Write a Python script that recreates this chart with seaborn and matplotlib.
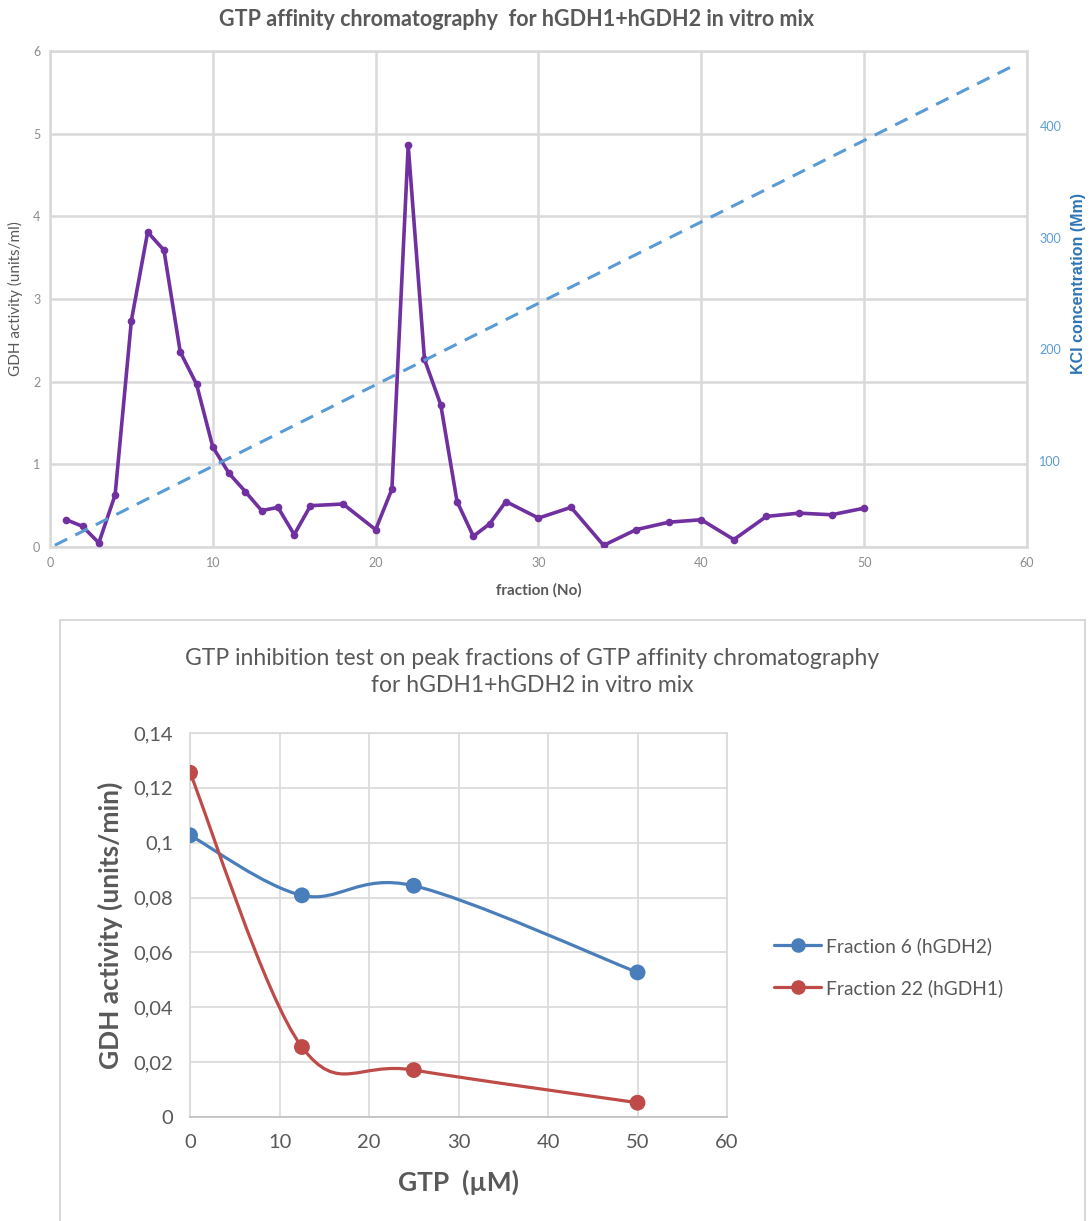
import matplotlib
matplotlib.use("Agg")
import matplotlib.pyplot as plt
from matplotlib.lines import Line2D
from matplotlib.patches import PathPatch, Rectangle
from matplotlib.path import Path
from matplotlib.ticker import FuncFormatter
import numpy as np
import pandas as pd
import seaborn as sns

# Top chart data (GTP affinity chromatography)
fraction = [1, 2, 3, 4, 5, 6, 7, 8, 9, 10, 11, 12, 13, 14, 15, 16, 18, 20, 21, 22,
            23, 24, 25, 26, 27, 28, 30, 32, 34, 36, 38, 40, 42, 44, 46, 48, 50]
gdh_activity = [0.33, 0.25, 0.05, 0.63, 2.74, 3.81, 3.59, 2.36, 1.97, 1.21, 0.89, 0.67, 0.44,
                0.48, 0.15, 0.50, 0.52, 0.21, 0.70, 4.86, 2.27, 1.72, 0.55, 0.13, 0.28, 0.55,
                0.35, 0.48, 0.02, 0.21, 0.30, 0.33, 0.09, 0.37, 0.41, 0.39, 0.47]
kcl_fraction = [0.3, 59.1]
kcl_conc = [24, 454]

# Bottom chart data (GTP inhibition test)
gtp_um = [0, 12.5, 25, 50]
frac6 = [0.1027, 0.0808, 0.0843, 0.0527]
frac22 = [0.1255, 0.0255, 0.0171, 0.0052]
series_names = ["Fraction 6 (hGDH2)", "Fraction 22 (hGDH1)"]
series_colors = ["#4A7EBB", "#BE4B48"]

sns.set_style("white")
plt.rcParams['font.family'] = ['Lato', 'DejaVu Sans']

grey = "#595959"
grid_c = "#d9d9d9"

fig = plt.figure(figsize=(10.91, 12.21), dpi=100)

# ---------------- top chart ----------------
ax1 = fig.add_axes([0.0458, 0.552, 0.8955, 0.4062])
df_top = pd.DataFrame({"fraction": fraction, "activity": gdh_activity})
sns.lineplot(data=df_top, x="fraction", y="activity", ax=ax1, color="#7030A0",
             linewidth=2.6, marker="o", markersize=5.5, markeredgewidth=0, zorder=3)
ax1.set_xlim(0, 60)
ax1.set_ylim(0, 6)
ax1.set_xticks(range(0, 61, 10))
ax1.set_yticks(range(0, 7))
ax1.grid(True, color=grid_c, linewidth=1.8)
for s in ax1.spines.values():
    s.set_color(grid_c)
    s.set_linewidth(1.8)
ax1.tick_params(length=0, labelsize=9, colors="#8c8c8c", pad=7)
ax1.set_xlabel("fraction (No)", fontsize=11, fontweight="bold", color=grey)
ax1.set_ylabel("GDH activity (units/ml)", fontsize=11, color=grey)
ax1.xaxis.set_label_coords(0.5, -0.073)
ax1.yaxis.set_label_coords(-0.028, 0.5)

ax2 = ax1.twinx()
df_kcl = pd.DataFrame({"fraction": kcl_fraction, "kcl": kcl_conc})
sns.lineplot(data=df_kcl, x="fraction", y="kcl", ax=ax2, color="#5B9BD5",
             linewidth=2.2, linestyle=(0, (4.5, 3)), zorder=2)
ax2.set_ylim(22.4, 467.7)
ax2.set_yticks([100, 200, 300, 400])
ax2.tick_params(length=0, labelsize=9, colors="#5B9BD5", pad=9)
ax2.set_ylabel("KCl concentration (Mm)", fontsize=11.5, fontweight="bold",
               color="#2E75B6", family=["Liberation Sans", "DejaVu Sans"])
ax2.yaxis.set_label_coords(1.045, 0.532)
for s in ax2.spines.values():
    s.set_visible(False)

fig.text(517 / 1091, 1 - 20 / 1221, "GTP affinity chromatography  for hGDH1+hGDH2 in vitro mix",
         ha="center", va="center", fontsize=15.5, fontweight="bold", color=grey)

# ---------------- bottom chart ----------------
fig.patches.append(Rectangle((60 / 1091, -0.01), (1085 - 60) / 1091, (1221 - 620) / 1221 + 0.01,
                             transform=fig.transFigure, fill=False, edgecolor=grid_c,
                             linewidth=1.5))

ax3 = fig.add_axes([0.1742, 0.0852, 0.4922, 0.3145])


def smooth_path(xs, ys):
    # Excel-like smoothed line: cubic Bezier through the points
    pts = np.column_stack([xs, ys])
    n = len(pts)
    verts = [pts[0]]
    codes = [Path.MOVETO]
    for i in range(n - 1):
        p0 = pts[max(i - 1, 0)]
        p1 = pts[i]
        p2 = pts[i + 1]
        p3 = pts[min(i + 2, n - 1)]
        c1 = p1 + (p2 - p0) / 6
        c2 = p2 - (p3 - p1) / 6
        verts += [c1, c2, p2]
        codes += [Path.CURVE4] * 3
    return Path(verts, codes)


df_bot = pd.DataFrame({
    "gtp": gtp_um * 2,
    "activity": frac6 + frac22,
    "series": [series_names[0]] * 4 + [series_names[1]] * 4,
})
for name, ys, col in zip(series_names, [frac6, frac22], series_colors):
    ax3.add_patch(PathPatch(smooth_path(gtp_um, ys), fill=False, edgecolor=col,
                            linewidth=2.3, zorder=3))
sns.scatterplot(data=df_bot, x="gtp", y="activity", hue="series",
                palette=series_colors, s=130, linewidth=0, ax=ax3, zorder=4, legend=False)

ax3.set_xlim(0, 60)
ax3.set_ylim(0, 0.14)
ax3.set_xticks(range(0, 61, 10))
ax3.set_yticks(np.arange(0, 0.141, 0.02))
ax3.yaxis.set_major_formatter(FuncFormatter(lambda v, p: f"{v:g}".replace(".", ",")))
ax3.grid(True, color=grid_c, linewidth=1.2)
for s in ax3.spines.values():
    s.set_color(grid_c)
    s.set_linewidth(1.2)
ax3.spines["bottom"].set_color("#bfbfbf")
ax3.tick_params(length=0, labelsize=14.5, colors=grey, pad=12)
ax3.set_xlabel("GTP  (\u00b5M)", fontsize=19, fontweight="bold", color=grey)
ax3.set_ylabel("GDH activity (units/min)", fontsize=19, fontweight="bold", color=grey)
ax3.xaxis.set_label_coords(0.499, -0.138)
ax3.yaxis.set_label_coords(-0.125, 0.5)

fig.text(532 / 1091, 1 - 672 / 1221,
         "GTP inhibition test on peak fractions of GTP affinity chromatography\nfor hGDH1+hGDH2 in vitro mix",
         ha="center", va="center", fontsize=16.5, color=grey, linespacing=1.34)

handles = [Line2D([], [], color=c, linewidth=2.3, marker="o", markersize=10.5,
                  markeredgewidth=0) for c in series_colors]
fig.legend(handles, series_names, loc="center left",
           bbox_to_anchor=(757 / 1091, 1 - 967 / 1221), frameon=False, fontsize=13.9,
           handlelength=2.4, handletextpad=0.25, labelspacing=1.23, labelcolor=grey)

fig.savefig("out.png", dpi=100)
